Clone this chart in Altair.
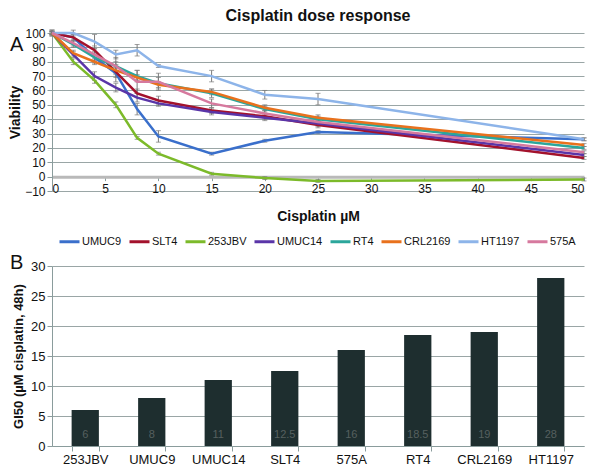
import altair as alt
import pandas as pd

FONT = "Liberation Sans"

# ---- Panel A data ----
doses = [0, 2, 4, 6, 8, 10, 15, 20, 25, 50]
series_names = ["UMUC9", "SLT4", "253JBV", "UMUC14", "RT4", "CRL2169", "HT1197", "575A"]
series_colors = ["#3a6fcb", "#a3122c", "#7cba2a", "#5a35a8", "#2ba69b", "#e8711d", "#8db4e9", "#d6799e"]

umuc9 = [100, 97, 83, 72, 47, 28, 16, 25, 31, 26]
slt4 = [100, 97, 88, 73, 58, 53, 46, 42, 36, 13]
jbv253 = [100, 80, 67, 50, 27, 16, 2, -1, -3, -2]
umuc14 = [100, 85, 70, 62, 55, 51, 45, 41, 37, 15]
rt4 = [100, 92, 83, 77, 70, 65, 58, 47, 40, 20]
crl2169 = [100, 86, 80, 74, 69, 64, 59, 48, 41, 22]
ht1197 = [100, 100, 94, 85, 88, 77, 70, 57, 54, 26]
a575 = [100, 93, 85, 77, 66, 66, 51, 44, 38, 17]

umuc9_err = [1, 2, 3, 6, 4, 4, 1, 1, 1, 1]
slt4_err = [1, 2, 3, 4, 3, 3, 2, 2, 2, 1]
jbv253_err = [2, 2, 2, 2, 1, 1, 1, 1, 1, 1]
umuc14_err = [1, 2, 3, 3, 3, 2, 2, 2, 2, 1]
rt4_err = [2, 2, 4, 3, 4, 4, 3, 2, 2, 1]
crl2169_err = [1, 2, 2, 2, 2, 2, 2, 2, 2, 1]
ht1197_err = [0, 2, 5, 3, 4, 1, 4, 3, 4, 1]
a575_err = [2, 2, 4, 6, 8, 6, 3, 2, 2, 1]

# ---- Panel B data ----
gi50_lines = ["253JBV", "UMUC9", "UMUC14", "SLT4", "575A", "RT4", "CRL2169", "HT1197"]
gi50_values = [6, 8, 11, 12.5, 16, 18.5, 19, 28]

values_by = [umuc9, slt4, jbv253, umuc14, rt4, crl2169, ht1197, a575]
errs_by = [umuc9_err, slt4_err, jbv253_err, umuc14_err, rt4_err, crl2169_err, ht1197_err, a575_err]

rows = []
for name, vals, errs in zip(series_names, values_by, errs_by):
    for d, v, e in zip(doses, vals, errs):
        rows.append({"line": name, "dose": d, "viability": v, "lo": v - e, "hi": v + e})
df = pd.DataFrame(rows)

grid_col = "#9aa6a6"
axis_col = "#8a9c9c"

TOP_H = 158
BOT_H = 180
W = 532

x_scale = alt.Scale(domain=[0, 50], nice=False)
x_axis = alt.Axis(values=list(range(0, 51, 5)), grid=False,
                  offset=-(TOP_H * 10 / 110),
                  domainColor="#b9b9b9", domainWidth=3, tickColor=axis_col,
                  tickSize=4, labelFontSize=12, labelPadding=3, labelOverlap=False,
                  title="Cisplatin µM", titleFontSize=14, titleFontWeight="bold",
                  titlePadding=15, labelFont=FONT, titleFont=FONT,
                  labelColor="#111", titleColor="#111")
y_scale = alt.Scale(domain=[-10, 100], nice=False)
y_axis = alt.Axis(values=list(range(-10, 101, 10)), grid=True, gridColor=grid_col,
                  domainColor=axis_col, tickColor=axis_col, tickSize=5,
                  labelFontSize=12, labelPadding=2, labelOverlap=False,
                  title="Viability",
                  titleFontSize=14, titleFontWeight="bold", titlePadding=2,
                  labelFont=FONT, titleFont=FONT, labelColor="#111", titleColor="#111")

color_enc = alt.Color("line:N", scale=alt.Scale(domain=series_names, range=series_colors),
                      legend=alt.Legend(orient="none", legendX=6, legendY=197, direction="horizontal",
                                        title=None, symbolType="stroke", padding=0,
                                        symbolSize=400, symbolStrokeWidth=3, labelFontSize=11,
                                        labelFont=FONT, labelOffset=1, columnPadding=1,
                                        labelColor="#111"))

errs = alt.Chart(df).mark_errorbar(ticks=alt.MarkConfig(size=5), color="#7a7a7a",
                                    thickness=1).encode(
    x=alt.X("dose:Q", scale=x_scale, axis=x_axis),
    y=alt.Y("lo:Q", scale=y_scale, axis=y_axis), y2="hi:Q")
lines = alt.Chart(df).mark_line(strokeWidth=2.5).encode(
    x=alt.X("dose:Q", scale=x_scale, axis=x_axis),
    y=alt.Y("viability:Q", scale=y_scale, axis=y_axis),
    color=color_enc, order="dose:Q")
letter_a = alt.Chart(pd.DataFrame({"t": ["A"]})).mark_text(
    fontSize=20, font=FONT, align="left", baseline="middle", color="#111").encode(
    text="t:N", x=alt.value(-42), y=alt.value(12))

top = alt.layer(errs, lines, letter_a).properties(
    width=W, height=TOP_H,
    title=alt.TitleParams("Cisplatin dose response", fontSize=16, fontWeight="bold",
                          font=FONT, anchor="middle", offset=3, color="#111"))

bdf = pd.DataFrame({"line": gi50_lines, "gi50": gi50_values})
b_scale_x = alt.Scale(paddingInner=0.59, paddingOuter=0.295)
bx_axis = alt.Axis(title=None, labelAngle=0, labelFontSize=13, labelFont=FONT,
                   labelColor="#111", tickBand="extent", tickSize=5,
                   domainColor=axis_col, tickColor=axis_col, labelPadding=2)
b_scale_y = alt.Scale(domain=[0, 30], nice=False)
by_axis = alt.Axis(values=list(range(0, 31, 5)), grid=True, gridColor=grid_col,
                   domainColor=axis_col, tickColor=axis_col, tickSize=5,
                   labelFontSize=13, labelPadding=2, labelFont=FONT, labelColor="#111",
                   labelOverlap=False,
                   title="GI50 (µM cisplatin, 48h)", titleFontSize=13,
                   titleFontWeight="bold", titleFont=FONT, titleColor="#111",
                   titlePadding=5)
bars = alt.Chart(bdf).mark_bar(color="#1e2e2f").encode(
    x=alt.X("line:N", sort=gi50_lines, scale=b_scale_x, axis=bx_axis),
    y=alt.Y("gi50:Q", scale=b_scale_y, axis=by_axis))
blabels = alt.Chart(bdf).mark_text(fontSize=11, font=FONT, color="#56605f",
                                   baseline="bottom", dy=-6).encode(
    x=alt.X("line:N", sort=gi50_lines, scale=b_scale_x, axis=bx_axis),
    y=alt.Y(datum=0, scale=b_scale_y, axis=by_axis), text="gi50:Q")
letter_b = alt.Chart(pd.DataFrame({"t": ["B"]})).mark_text(
    fontSize=20, font=FONT, align="left", baseline="middle", color="#111").encode(
    text="t:N", x=alt.value(-42), y=alt.value(-3))

bottom = alt.layer(bars, blabels, letter_b).properties(width=W, height=BOT_H)

chart = alt.vconcat(top, bottom, spacing=29).configure(padding=0).configure_view(
    stroke=None).configure_axis(labelFont=FONT, titleFont=FONT)

chart.save("out.html", embed_options={"renderer": "svg", "actions": False})
